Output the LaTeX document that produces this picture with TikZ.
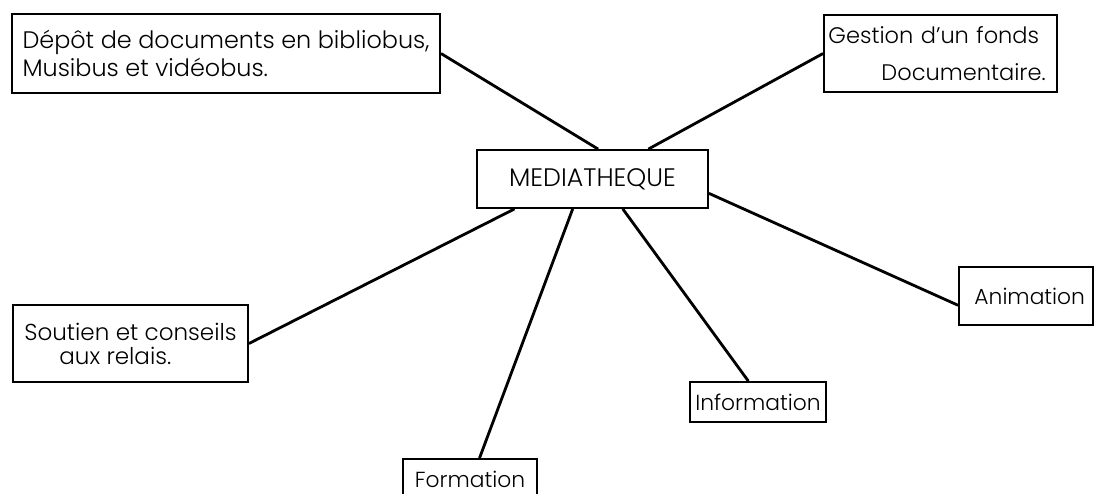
\documentclass[tikz,border=0pt]{standalone}
\usepackage{fontspec}
\setmainfont{Poppins Light}
\usetikzlibrary{calc}
\tikzset{
	boite/.style={draw, line width=1.3pt, inner sep=0pt, font=\fontsize{15.5}{19}\selectfont},
	lien/.style={line width=2pt}
}

\begin{document}
\begin{tikzpicture}[x=0.025cm, y=-0.025cm]
			%%%%% START %%%%%
			\useasboundingbox (0, 0) rectangle (1094, 494);
			
			\node[boite, minimum width=10.7cm, minimum height=1.975cm, align=left,
				font=\fontsize{17}{20}\selectfont] (depot) at (226, 53.5)
				{D\'ep\^ot de documents en bibliobus,\\Musibus et vid\'eobus.};
			\node[boite, minimum width=5.825cm, minimum height=1.925cm, text width=5.6cm, align=left,
				font=\fontsize{16}{26}\selectfont] (gestion) at (940.5, 53.5)
				{Gestion d'un fonds\\\hspace*{1.325cm}Documentaire.};
			
			\node[boite, minimum width=5.775cm, minimum height=1.45cm, font=\fontsize{18}{20}\selectfont] (media) at (592.5, 179) {MEDIATHEQUE};
			
			\node[boite, minimum width=5.875cm, minimum height=1.925cm, align=left,
				font=\fontsize{16.4}{17}\selectfont] (soutien) at (130.5, 343.5)
				{Soutien et conseils\\\hspace*{0.875cm}aux relais.};
			\node[boite, minimum width=3.35cm, minimum height=1.45cm, text width=2.95cm, align=right] (anim) at (1026, 296) {Animation};
			\node[boite, minimum width=3.4cm, minimum height=1cm] (info) at (758, 402) {Information};
			\node[boite, minimum width=3.35cm, minimum height=1cm] (form) at (470, 479) {Formation};
			
			\draw[lien] (depot.east) -- ($(media.north west)!0.524!(media.north east)$);
			\draw[lien] (gestion.west) -- ($(media.north west)!0.74!(media.north east)$);
			\draw[lien] (soutien.east) -- ($(media.south west)!0.165!(media.south east)$);
			\draw[lien] ($(form.north west)!0.57!(form.north east)$) -- ($(media.south west)!0.415!(media.south east)$);
			\draw[lien] ($(info.north west)!0.43!(info.north east)$) -- ($(media.south west)!0.63!(media.south east)$);
			\draw[lien] ($(anim.north west)!0.655!(anim.south west)$) -- ($(media.north east)!0.74!(media.south east)$);
			%%%%% END %%%%%
\end{tikzpicture}
\end{document}
